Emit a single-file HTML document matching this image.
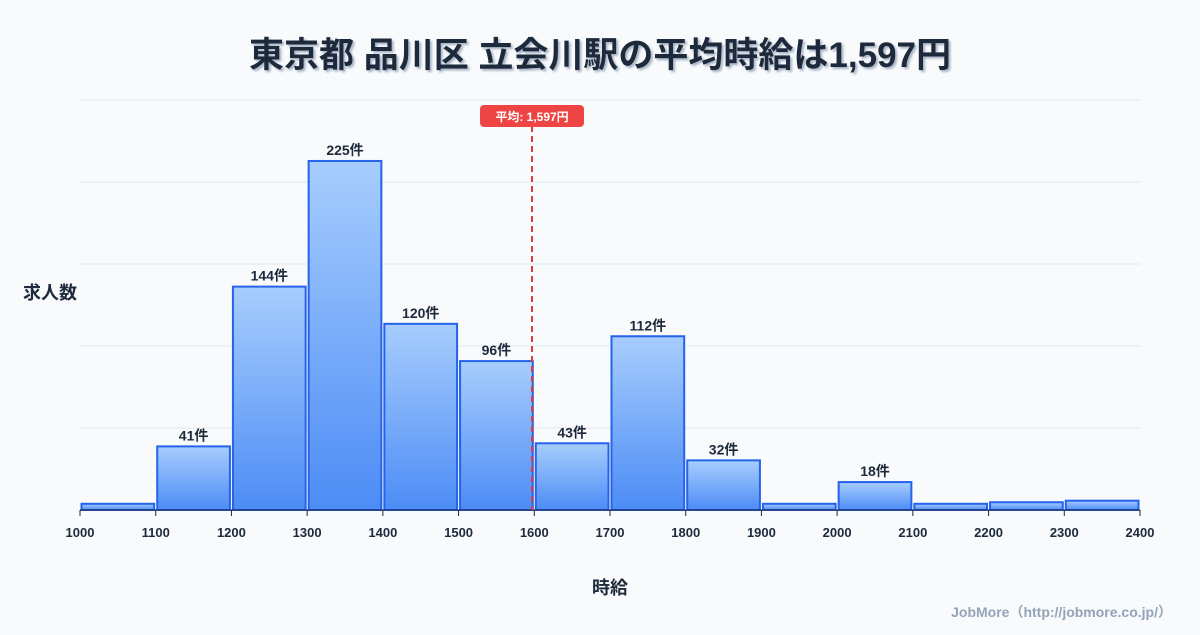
<!DOCTYPE html>
<html><head><meta charset="utf-8"><style>
body{margin:0;width:1200px;height:630px;background:#f8fafc;font-family:"Liberation Sans","Noto Sans CJK JP",sans-serif;overflow:hidden}
</style></head><body>
<svg id="c" width="1200" height="630" xmlns="http://www.w3.org/2000/svg">
<defs><linearGradient id="g" x1="0" y1="0" x2="0" y2="1"><stop offset="0" stop-color="#a7cdfd"/><stop offset="1" stop-color="#4d8cf6"/></linearGradient>
<filter id="sh"><feDropShadow dx="2" dy="2" stdDeviation="1" flood-color="#94a3b8" flood-opacity="0.8"/></filter></defs>
<text x="600" y="67" text-anchor="middle" font-size="35" font-weight="bold" fill="#1e293b" filter="url(#sh)" font-family="'Liberation Sans','Noto Sans CJK JP',sans-serif">東京都 品川区 立会川駅の平均時給は1,597円</text>
<text x="50" y="299" text-anchor="middle" font-size="18" font-weight="bold" fill="#1e293b" font-family="'Liberation Sans','Noto Sans CJK JP',sans-serif">求人数</text>
<text x="610" y="594" text-anchor="middle" font-size="18" font-weight="bold" fill="#1e293b" font-family="'Liberation Sans','Noto Sans CJK JP',sans-serif">時給</text>
<text x="1172" y="617" text-anchor="end" font-size="14" font-weight="bold" fill="#94a3b8" font-family="'Liberation Sans','Noto Sans CJK JP',sans-serif">JobMore（http://jobmore.co.jp/）</text>
<g id="grid"></g><g id="bars"></g><g id="axis"></g><g id="avg"></g>
</svg>
<script>
const binStarts=[1000,1100,1200,1300,1400,1500,1600,1700,1800,1900,2000,2100,2200,2300];
const counts=[4,41,144,225,120,96,43,112,32,4,18,4,5,6];
const xTicks=[1000,1100,1200,1300,1400,1500,1600,1700,1800,1900,2000,2100,2200,2300,2400];
const avgValue=1597;
const binWidth=100;
const ns="http://www.w3.org/2000/svg";
const X0=80,X1=1140,Y0=510,Y1=100,xmin=1000,xmax=2400,ymax=264.3;
const x=v=>X0+(v-xmin)/(xmax-xmin)*(X1-X0);
const y=v=>Y0-v/ymax*(Y0-Y1);
function mk(t,a,p){const e=document.createElementNS(ns,t);for(const k in a)e.setAttribute(k,a[k]);p.appendChild(e);return e;}
const grid=document.getElementById('grid');
for(let i=0;i<=5;i++){const yy=Y0-i*(Y0-Y1)/5;const l=mk('line',{x1:X0,x2:X1,y1:yy,y2:yy,stroke:'#e5e7eb','stroke-width':1},grid);

}
const bars=document.getElementById('bars');
binStarts.forEach((b,i)=>{const x0=x(b)+1.5,x1=x(b+binWidth)-1.5,t=y(counts[i]);
const r=mk('rect',{x:x0,y:t,width:x1-x0,height:Y0-t,fill:'url(#g)',stroke:'#2563eb','stroke-width':2},bars);


if(counts[i]>=10){const tx=mk('text',{x:(x0+x1)/2,y:t-6,'text-anchor':'middle','font-size':14,'font-weight':'bold',fill:'#1e293b'},bars);tx.textContent=counts[i]+'件';

}
});
const ax=document.getElementById('axis');
const al=mk('line',{x1:X0,x2:X1,y1:Y0,y2:Y0,stroke:'#1e293b','stroke-width':1},ax);


xTicks.forEach(v=>{const tk=mk('line',{x1:x(v),x2:x(v),y1:Y0,y2:Y0+6,stroke:'#1e293b','stroke-width':1},ax);


const t=mk('text',{x:x(v),y:Y0+27,'text-anchor':'middle','font-size':13,'font-weight':'bold',fill:'#1e293b'},ax);t.textContent=v;

});
const avg=document.getElementById('avg');const ax0=x(avgValue);
const dl=mk('line',{x1:ax0,x2:ax0,y1:126,y2:Y0,stroke:'#dc3c3c','stroke-width':2,'stroke-dasharray':'6,4'},avg);


const br=mk('rect',{x:ax0-52,y:105,width:104,height:22,rx:4,fill:'#ef4444'},avg);


const bt=mk('text',{x:ax0,y:121,'text-anchor':'middle','font-size':12,'font-weight':'bold',fill:'#fff'},avg);bt.textContent='平均: '+avgValue.toLocaleString('en-US')+'円';


</script>
</body></html>
